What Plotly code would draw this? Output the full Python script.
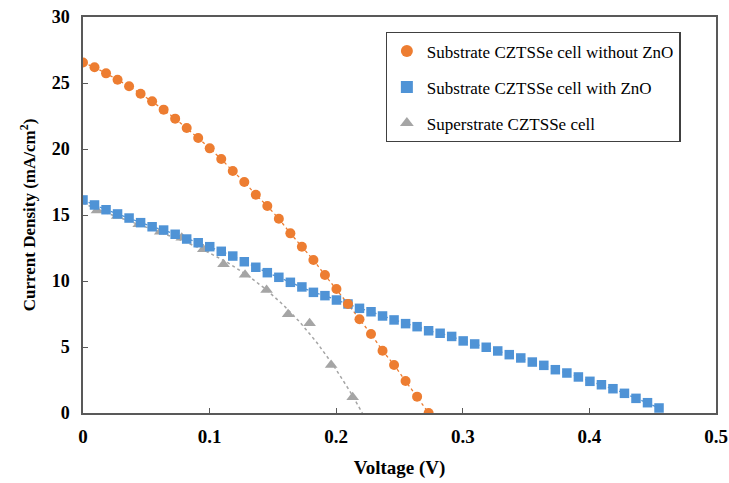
import numpy as np
import plotly.graph_objects as go

# Substrate CZTSSe cell without ZnO
v_orange = [0.0, 0.0091, 0.0182, 0.0273, 0.0364, 0.0455, 0.0546, 0.0637, 0.0728, 0.0819,
            0.0910, 0.1001, 0.1092, 0.1183, 0.1274, 0.1365, 0.1456, 0.1547, 0.1638, 0.1729,
            0.1820, 0.1911, 0.2002, 0.2093, 0.2184, 0.2275, 0.2366, 0.2457, 0.2548, 0.2639, 0.2730]
j_orange = [26.55, 26.19, 25.73, 25.25, 24.75, 24.19, 23.61, 22.98, 22.30, 21.59,
            20.83, 20.05, 19.24, 18.33, 17.50, 16.54, 15.68, 14.72, 13.61, 12.60,
            11.59, 10.45, 9.39, 8.26, 7.10, 5.98, 4.72, 3.64, 2.42, 1.24, 0.0]

# Substrate CZTSSe cell with ZnO
v_blue = [0.0, 0.0091, 0.0182, 0.0273, 0.0364, 0.0455, 0.0546, 0.0637, 0.0728, 0.0819,
          0.0910, 0.1001, 0.1092, 0.1183, 0.1274, 0.1365, 0.1456, 0.1547, 0.1638, 0.1729,
          0.1820, 0.1911, 0.2002, 0.2093, 0.2184, 0.2275, 0.2366, 0.2457, 0.2548, 0.2639,
          0.2730, 0.2821, 0.2912, 0.3003, 0.3094, 0.3185, 0.3276, 0.3367, 0.3458, 0.3549,
          0.3640, 0.3731, 0.3822, 0.3913, 0.4004, 0.4095, 0.4186, 0.4277, 0.4368, 0.4459, 0.4550]
j_blue = [16.14, 15.76, 15.40, 15.08, 14.77, 14.42, 14.11, 13.86, 13.54, 13.18,
          12.90, 12.60, 12.25, 11.89, 11.46, 11.04, 10.63, 10.28, 9.90, 9.55,
          9.14, 8.89, 8.56, 8.26, 7.93, 7.67, 7.35, 7.05, 6.77, 6.54,
          6.23, 6.04, 5.80, 5.46, 5.23, 4.98, 4.70, 4.42, 4.17, 3.86,
          3.61, 3.28, 3.03, 2.73, 2.40, 2.14, 1.84, 1.49, 1.11, 0.78, 0.38]

# Superstrate CZTSSe cell
v_gray = [0.011, 0.027, 0.044, 0.061, 0.078, 0.095, 0.111, 0.128, 0.145, 0.162, 0.179, 0.196, 0.213]
j_gray = [15.35, 14.92, 14.29, 13.73, 13.28, 12.40, 11.26, 10.48, 9.32, 7.49, 6.80, 3.64, 1.19]

names = ["Substrate CZTSSe cell without ZnO", "Substrate CZTSSe cell with ZnO", "Superstrate CZTSSe cell"]
x_ticks = [0, 0.1, 0.2, 0.3, 0.4, 0.5]
x_tick_text = ["0", "0.1", "0.2", "0.3", "0.4", "0.5"]
y_ticks = [0, 5, 10, 15, 20, 25, 30]

ORANGE = "#ED7D31"
BLUE = "#4F93D6"
GRAY = "#A5A5A5"
SERIF = "Times New Roman, Liberation Serif, serif"

# polynomial trendline for the superstrate cell
coef = np.polyfit(v_gray, j_gray, 3)
roots = [r.real for r in np.roots(coef) if abs(r.imag) < 1e-9 and r.real > 0.15]
v_end = min(roots) if roots else max(v_gray)
v_fit = np.linspace(0, v_end, 150)
j_fit = np.polyval(coef, v_fit)

fig = go.Figure()
fig.add_trace(go.Scatter(x=v_orange, y=j_orange, mode="lines", line=dict(color=ORANGE, width=1.3, dash="dot"),
                         showlegend=False, hoverinfo="skip"))
fig.add_trace(go.Scatter(x=v_blue, y=j_blue, mode="lines", line=dict(color=BLUE, width=1.3, dash="dot"),
                         showlegend=False, hoverinfo="skip"))
fig.add_trace(go.Scatter(x=v_fit, y=j_fit, mode="lines", line=dict(color=GRAY, width=1.5, dash="dot"),
                         showlegend=False, hoverinfo="skip"))
fig.add_trace(go.Scatter(x=v_gray, y=j_gray, mode="markers", name=names[2], legendgroup="c", legendrank=3,
                         marker=dict(symbol="triangle-up", size=11, color=GRAY)))
fig.add_trace(go.Scatter(x=v_blue, y=j_blue, mode="markers", name=names[1], legendgroup="b", legendrank=2,
                         marker=dict(symbol="square", size=9.5, color=BLUE)))
fig.add_trace(go.Scatter(x=v_orange, y=j_orange, mode="markers", name=names[0], legendgroup="a", legendrank=1,
                         marker=dict(symbol="circle", size=10, color=ORANGE)))

axis_common = dict(
    showline=True, linecolor="#595959", linewidth=1.5, mirror=True,
    ticks="inside", ticklen=5, tickwidth=1, tickcolor="#595959",
    showgrid=False, zeroline=False, automargin=False,
)

fig.update_layout(
    width=729, height=483, autosize=False,
    margin=dict(l=83, r=13, t=17, b=70),
    paper_bgcolor="white", plot_bgcolor="white",
    font=dict(family=SERIF, color="#000000"),
    xaxis=dict(range=[0, 0.5], tickvals=x_ticks, ticktext=["<b>%s</b>" % t for t in x_tick_text],
               tickfont=dict(family=SERIF, size=19, color="#000000"), ticklabelstandoff=5,
               title=dict(text="<b>Voltage (V)</b>", font=dict(family=SERIF, size=19), standoff=15),
               **axis_common),
    yaxis=dict(range=[0, 30], tickvals=y_ticks, ticktext=["<b>%d</b>" % t for t in y_ticks],
               tickfont=dict(family=SERIF, size=18, color="#000000"), ticklabelstandoff=8,
               title=dict(text="<b>Current Density (mA/cm<sup>2</sup>)</b>", font=dict(family=SERIF, size=17), standoff=12),
               **axis_common),
    legend=dict(x=0.478, y=0.962, xanchor="left", yanchor="top",
                bordercolor="#404040", borderwidth=1.3, bgcolor="white",
                font=dict(family=SERIF, size=17, color="#000000"),
                traceorder="grouped", tracegroupgap=11, itemwidth=30,
                itemsizing="constant"),
)

fig.write_html("out.html")
